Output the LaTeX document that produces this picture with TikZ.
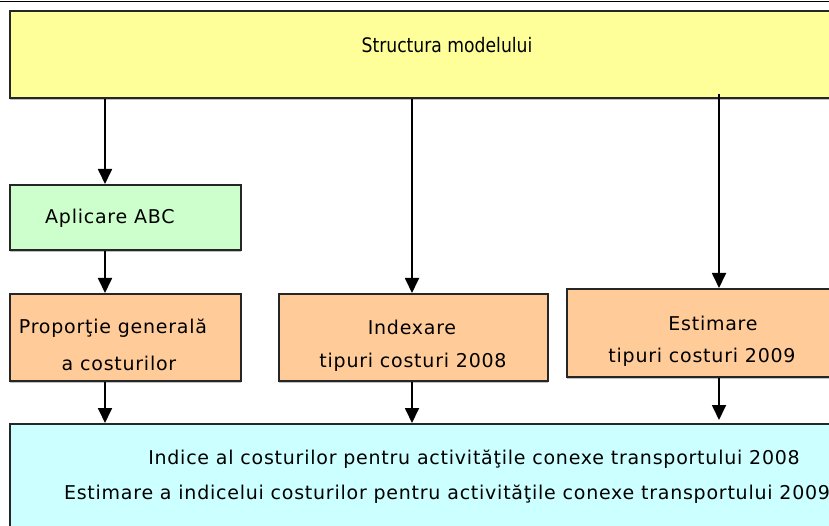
\documentclass[tikz,border=0pt]{standalone}
\usepackage{fontspec}
\setmainfont[LetterSpace=4]{DejaVu Sans}
\newfontfamily\narrowfont[FakeStretch=0.86]{DejaVu Sans}
\usepackage{tikz}
\usetikzlibrary{arrows.meta}
\usetikzlibrary{positioning}
\usetikzlibrary{shadows}

\definecolor{boxyellow}{HTML}{FFFF99}
\definecolor{boxgreen}{HTML}{CCFFCC}
\definecolor{boxorange}{HTML}{FFCC99}
\definecolor{boxcyan}{HTML}{CCFFFF}

\begin{document}
\begin{tikzpicture}[x=1pt,y=-1pt,
		box/.style={draw=black!85, line width=1.6pt, anchor=north west, inner sep=0pt,
			drop shadow={shadow xshift=0pt, shadow yshift=-2pt, fill=black!25, opacity=1}},
		lbl/.style={inner sep=0pt, font=\fontsize{19}{22}\selectfont},
		nlbl/.style={inner sep=0pt, font=\fontsize{20}{23}\selectfont\narrowfont},
		arr/.style={line width=1.8pt, -{Triangle[width=14pt,length=15pt]}}]
			\useasboundingbox (0,0) rectangle (829,526);
			\clip (0,0) rectangle (829,526);
			\draw[line width=1.5pt] (0,1.5) -- (829,1.5);

			% boxes
			\node[box, fill=boxyellow, minimum width=840pt, minimum height=87pt] (model) at (9,10) {};
			\node[box, fill=boxgreen, minimum width=231pt, minimum height=65pt] (abc) at (9,184) {};
			\node[box, fill=boxorange, minimum width=231pt, minimum height=87pt] (prop) at (9,293) {};
			\node[box, fill=boxorange, minimum width=269pt, minimum height=87pt] (idx) at (278,293) {};
			\node[box, fill=boxorange, minimum width=274pt, minimum height=88pt] (est) at (566,288) {};
			\node[box, fill=boxcyan, minimum width=840pt, minimum height=120pt] (res) at (9,423) {};

			% texts
			\node[nlbl] (tmodel) at (447,45) {Structura modelului};
			\node[lbl, anchor=west] (tabc) at (45,218) {Aplicare ABC};
			\node[lbl] (tprop1) at (113,328) {Proporţie generală};
			\node[lbl] (tprop2) at (119,363) {a costurilor};
			\node[lbl] (tidx1) at (412,327) {Indexare};
			\node[lbl] (tidx2) at (413,362) {tipuri costuri 2008};
			\node[lbl] (test1) at (713,323) {Estimare};
			\node[lbl] (test2) at (702,357) {tipuri costuri 2009};
			\node[lbl] (tres1) at (474,459) {Indice al costurilor pentru activităţile conexe transportului 2008};
			\node[lbl] (tres2) at (447,494) {Estimare a indicelui costurilor pentru activităţile conexe transportului 2009};

			% columns
			\coordinate (c1) at (105,0);
			\coordinate (c2) at (412,0);
			\coordinate (c3) at (719,0);

			\draw[arr] (model.south -| c1) -- (abc.north -| c1);
			\draw[arr] (abc.south -| c1) -- (prop.north -| c1);
			\draw[arr] (prop.south -| c1) -- (res.north -| c1);
			\draw[arr] (model.south -| c2) -- (idx.north -| c2);
			\draw[arr] (idx.south -| c2) -- (res.north -| c2);
			\draw[arr] ([yshift=5pt]model.south -| c3) -- (est.north -| c3);
			\draw[arr] (est.south -| c3) -- ([yshift=3pt]res.north -| c3);
		\end{tikzpicture}
\end{document}
